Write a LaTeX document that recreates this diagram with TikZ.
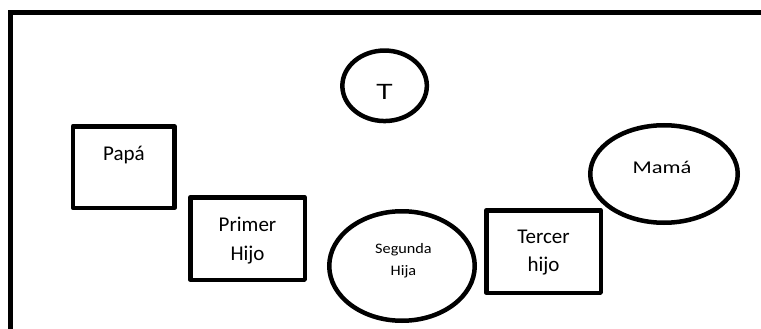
\documentclass[tikz,border=0pt]{standalone}
\usepackage{fontspec}
\usepackage{graphicx}
\setmainfont{Carlito}
\newfontfamily\arialfont{Liberation Sans}
\usetikzlibrary{shapes.geometric}

\begin{document}
\begin{tikzpicture}[x=1pt,y=-1pt,
  famrect/.style={draw, line width=4.5pt, line join=round, rectangle, inner sep=0pt},
  famoval/.style={draw, line width=4.5pt, ellipse, inner sep=0pt},
  lbl/.style={font=\fontsize{21}{28.5}\selectfont, align=center, inner sep=0pt},
  smalllbl/.style={font=\fontsize{14.5}{22}\selectfont, align=center, inner sep=0pt},
]
\clip (0,0) rectangle (761,329);
\fill[white] (0,0) rectangle (761,329);

% outer frame, running past the right and bottom edges
\draw[line width=5pt] (10.8,12.5) rectangle (780,350);

% parents
\node[famrect, minimum width=101.5pt, minimum height=81.5pt] (papa) at (123.7,167) {};
\node[lbl, anchor=base] (papaT) at (124,160) {Papá};

\node[famoval, minimum width=147.5pt, minimum height=97.5pt] (mama) at (664,174) {};
\node[lbl, font=\fontsize{18}{22}\selectfont, anchor=base] (mamaT) at (662,173.5) {\scalebox{1.25}[1]{Mamá}};

% T
\node[famoval, minimum width=84.5pt, minimum height=70.5pt] (t) at (384.6,85.8) {};
\node[lbl, font=\arialfont\fontsize{22}{26}\selectfont, anchor=base] (tT) at (384.5,99.3) {\scalebox{1.25}[1]{T}};

% children
\node[famrect, minimum width=114.5pt, minimum height=82.5pt] (primer) at (247.5,238.5) {};
\node[lbl] (primerT) at (247.5,240.6) {Primer\\Hijo};

\node[famoval, minimum width=145.5pt, minimum height=109.5pt] (segunda) at (402,266) {};
\node[smalllbl] (segundaT) at (403.5,260.9) {\scalebox{1.12}[1]{Segunda}\\\scalebox{1.12}[1]{Hija}};

\node[famrect, minimum width=114.5pt, minimum height=82.5pt] (tercer) at (543.5,251.5) {};
\node[lbl] (tercerT) at (543.5,252.6) {Tercer\\hijo};
\end{tikzpicture}
\end{document}
